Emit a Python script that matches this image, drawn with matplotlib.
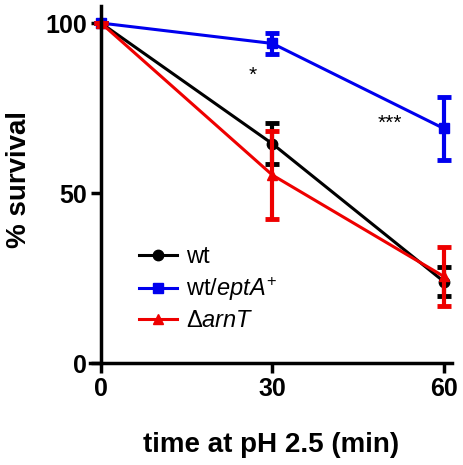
import matplotlib
matplotlib.use('Agg')
import matplotlib.pyplot as plt

# data
time = [0, 30, 60]
wt = [100, 64.5, 24]
wt_err = [0, 6, 4.3]
ept = [100, 94, 69]
ept_err = [0, 3, 9.3]
arn = [100, 55.3, 25.5]
arn_err = [0, 12.9, 8.8]

stars_x = [26.6, 50.5]
stars_y = [84.5, 70.5]
stars_txt = ['*', '***']

plt.rcParams['font.family'] = 'Liberation Sans'
plt.rcParams['mathtext.fontset'] = 'custom'
plt.rcParams['mathtext.rm'] = 'Liberation Sans'
plt.rcParams['mathtext.it'] = 'Liberation Sans:italic'

fig = plt.figure(figsize=(4.64, 4.65), dpi=100)
ax = fig.add_axes([0.193, 0.219, 0.782, 0.768])

series = [
    (wt, wt_err, 'black', 'o', 'wt'),
    (ept, ept_err, '#0000ee', 's', r'wt/$\mathit{eptA}^{+}$'),
    (arn, arn_err, '#ee0000', '^', r'$\Delta\mathit{arnT}$'),
]
for vals, err, col, mk, lab in series:
    # error bars drawn separately so the legend shows only line + marker
    ax.errorbar(time, vals, yerr=err, color=col, fmt='none',
                elinewidth=3, capsize=5, capthick=3.5)
    ax.plot(time, vals, color=col, marker=mk, markersize=7.5,
            linewidth=2.2, label=lab)

for x, y, t in zip(stars_x, stars_y, stars_txt):
    ax.text(x, y, t, ha='center', va='center', fontsize=15)

ax.set_xlim(-2, 61.5)
ax.set_ylim(0, 105)
ax.set_xticks([0, 30, 60])
ax.set_yticks([0, 50, 100])
ax.spines['left'].set_position(('data', 0))
ax.spines['left'].set_bounds(0, 105)
ax.spines['right'].set_visible(False)
ax.spines['top'].set_visible(False)
for s in ['left', 'bottom']:
    ax.spines[s].set_linewidth(2.5)
ax.tick_params(width=2.5, length=7, labelsize=18, direction='out', pad=3)
for lbl in ax.get_xticklabels() + ax.get_yticklabels():
    lbl.set_fontweight('bold')

ax.set_xlabel('time at pH 2.5 (min)', fontsize=20, fontweight='bold', labelpad=22)
fig.text(0.04, 0.615, '% survival', rotation=90, fontsize=20, fontweight='bold',
         ha='center', va='center')

ax.legend(loc='upper left', bbox_to_anchor=(0.11, 0.355), frameon=False, fontsize=17,
          handlelength=1.6, handletextpad=0.4, labelspacing=0.3, borderaxespad=0)

fig.savefig('out.png', dpi=100)
